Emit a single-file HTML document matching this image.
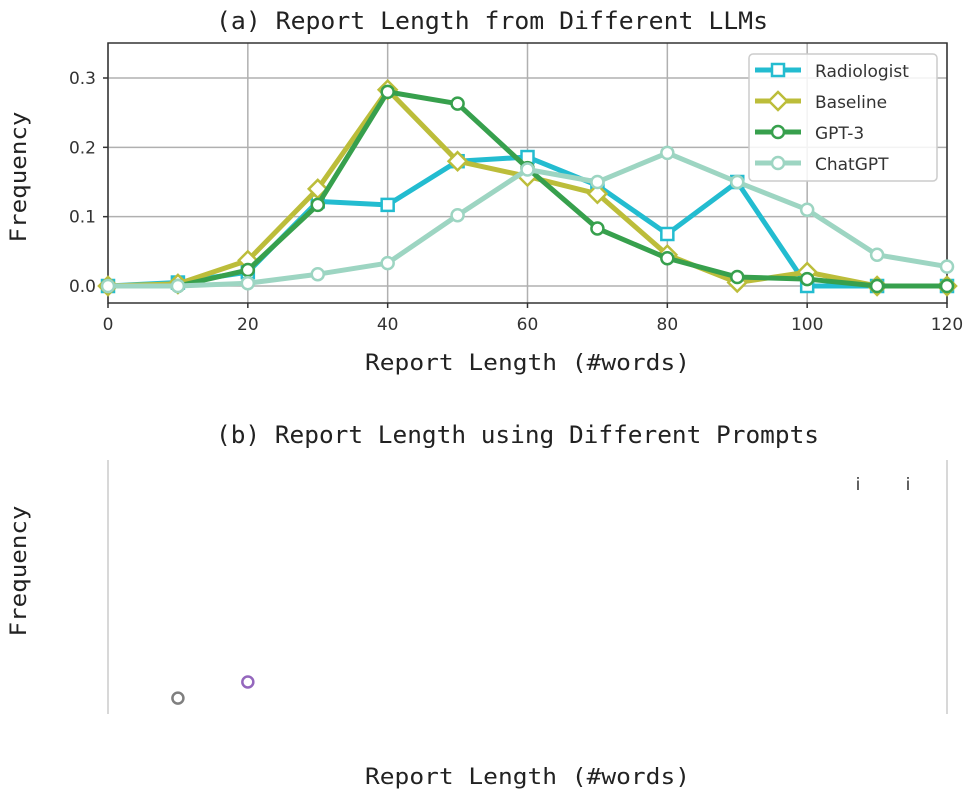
<!DOCTYPE html>
<html><head><meta charset="utf-8"><style>
body{margin:0;background:#fff;}
svg{display:block;}
.mono{font-family:"DejaVu Sans Mono","Liberation Mono",monospace;fill:#222;}
.tick{font-family:"DejaVu Sans","Liberation Sans",sans-serif;font-size:17px;fill:#333;}
</style></head><body>
<svg id="chart" width="972" height="795" xmlns="http://www.w3.org/2000/svg">
<rect width="972" height="795" fill="#fff"/>
<g id="panelA"></g>
<g id="panelB"></g>
</svg>
<script>
const xCats=[0,10,20,30,40,50,60,70,80,90,100,110,120];
const radiologist=[0,0.005,0.02,0.122,0.117,0.18,0.186,0.145,0.075,0.15,0,0,0];
const baseline=[0,0.003,0.037,0.14,0.283,0.18,0.158,0.133,0.045,0.005,0.02,0,0];
const gpt3=[0,0,0.023,0.117,0.28,0.263,0.17,0.083,0.04,0.013,0.01,0,0];
const chatgpt=[0,0,0.004,0.017,0.033,0.102,0.168,0.15,0.192,0.15,0.11,0.045,0.028];
const xTicks=[0,20,40,60,80,100,120];
const yTicks=[0.0,0.1,0.2,0.3];
const seriesNames=['Radiologist','Baseline','GPT-3','ChatGPT'];
const bottomPts=[[10,0.048],[20,0.1]];

const NS='http://www.w3.org/2000/svg';
function mk(tag,attrs,parent,text){const e=document.createElementNS(NS,tag);for(const k in attrs)e.setAttribute(k,attrs[k]);if(text!==undefined)e.textContent=text;parent.appendChild(e);return e;}
const L=108,R=947,T=43,B=303;
const xs=v=>L+(v/120)*(R-L);
const ys=v=>286-v*(208/0.3);
const topG=document.getElementById('panelA');
xTicks.forEach(t=>{const g=mk('line',{x1:xs(t),x2:xs(t),y1:T,y2:B,stroke:'#b0b0b0','stroke-width':1.5},topG);


const tl=mk('text',{x:xs(t),y:B+27,'text-anchor':'middle',class:'tick'},topG,String(t));


mk('line',{x1:xs(t),x2:xs(t),y1:B,y2:B+5,stroke:'#333','stroke-width':1.5},topG);});
yTicks.forEach(t=>{const g=mk('line',{x1:L,x2:R,y1:ys(t),y2:ys(t),stroke:'#b0b0b0','stroke-width':1.5},topG);


const tl=mk('text',{x:L-12,y:ys(t)+6,'text-anchor':'end',class:'tick'},topG,t.toFixed(1));


mk('line',{x1:L-5,x2:L,y1:ys(t),y2:ys(t),stroke:'#333','stroke-width':1.5},topG);});
const fr=mk('rect',{x:L,y:T,width:R-L,height:B-T,fill:'none',stroke:'#333','stroke-width':1.5},topG);


const styles=[{c:'#23bcd0',m:'sq'},{c:'#bcbd3a',m:'di'},{c:'#37a04d',m:'ci'},{c:'#9dd5c2',m:'ci'}];
const data=[radiologist,baseline,gpt3,chatgpt];
function marker(m,x,y,c,p,name){let e;
if(m==='sq')e=mk('rect',{x:x-6,y:y-6,width:12,height:12,fill:'#fff',stroke:c,'stroke-width':2.5},p);
else if(m==='di')e=mk('polygon',{points:`${x},${y-9} ${x+9},${y} ${x},${y+9} ${x-9},${y}`,fill:'#fff',stroke:c,'stroke-width':2.5},p);
else e=mk('circle',{cx:x,cy:y,r:6,fill:'#fff',stroke:c,'stroke-width':2.5},p);

}
data.forEach((d,i)=>{const g=mk('g',{},topG);


const pts=d.map((v,j)=>xs(xCats[j])+','+ys(v)).join(' ');
mk('polyline',{points:pts,fill:'none',stroke:styles[i].c,'stroke-width':5,'stroke-linejoin':'round'},g);
d.forEach((v,j)=>marker(styles[i].m,xs(xCats[j]),ys(v),styles[i].c,g,'point'));});
const lg=mk('g',{},topG);


mk('rect',{x:749,y:54,width:188,height:127,rx:4,fill:'#fff','fill-opacity':0.85,stroke:'#ccc','stroke-width':1.5},lg);
seriesNames.forEach((n,i)=>{const y=70+i*31;
const e=mk('g',{},lg);


mk('line',{x1:755,x2:801,y1:y,y2:y,stroke:styles[i].c,'stroke-width':5},e);
marker(styles[i].m,778,y,styles[i].c,e,'legend-marker');
mk('text',{x:815,y:y+7,class:'tick','font-size':'19px',fill:'#222'},e,n);});
let t;
t=mk('text',{x:216,y:29,class:'mono','font-size':'24px',textLength:552,lengthAdjust:'spacingAndGlyphs'},topG,'(a) Report Length from Different LLMs');

t=mk('text',{x:365,y:370,class:'mono','font-size':'22px',textLength:325,lengthAdjust:'spacingAndGlyphs'},topG,'Report Length (#words)');

t=mk('text',{x:0,y:0,'text-anchor':'middle',class:'mono','font-size':'22px',textLength:131,lengthAdjust:'spacingAndGlyphs',transform:'translate(26,177) rotate(-90)'},topG,'Frequency');

const bt=document.getElementById('panelB');
mk('line',{x1:108,x2:108,y1:460,y2:714,stroke:'#ccc','stroke-width':1.5},bt);
mk('line',{x1:947,x2:947,y1:460,y2:714,stroke:'#ccc','stroke-width':1.5},bt);
const bys=v=>713-v*(310);
const bcol=['#7f7f7f','#9467bd'];
bottomPts.forEach((p,i)=>{const c=mk('circle',{cx:xs(p[0]),cy:bys(p[1]),r:5.5,fill:'none',stroke:bcol[i],'stroke-width':2.5},bt);

});
mk('text',{x:858,y:490,'text-anchor':'middle',class:'tick','font-size':'19px',fill:'#222'},bt,'i');
mk('text',{x:908,y:490,'text-anchor':'middle',class:'tick','font-size':'19px',fill:'#222'},bt,'i');
t=mk('text',{x:216,y:443,class:'mono','font-size':'24px',textLength:603,lengthAdjust:'spacingAndGlyphs'},bt,'(b) Report Length using Different Prompts');

t=mk('text',{x:365,y:784,class:'mono','font-size':'22px',textLength:325,lengthAdjust:'spacingAndGlyphs'},bt,'Report Length (#words)');

t=mk('text',{x:0,y:0,'text-anchor':'middle',class:'mono','font-size':'22px',textLength:131,lengthAdjust:'spacingAndGlyphs',transform:'translate(26,571) rotate(-90)'},bt,'Frequency');

</script>
</body></html>
